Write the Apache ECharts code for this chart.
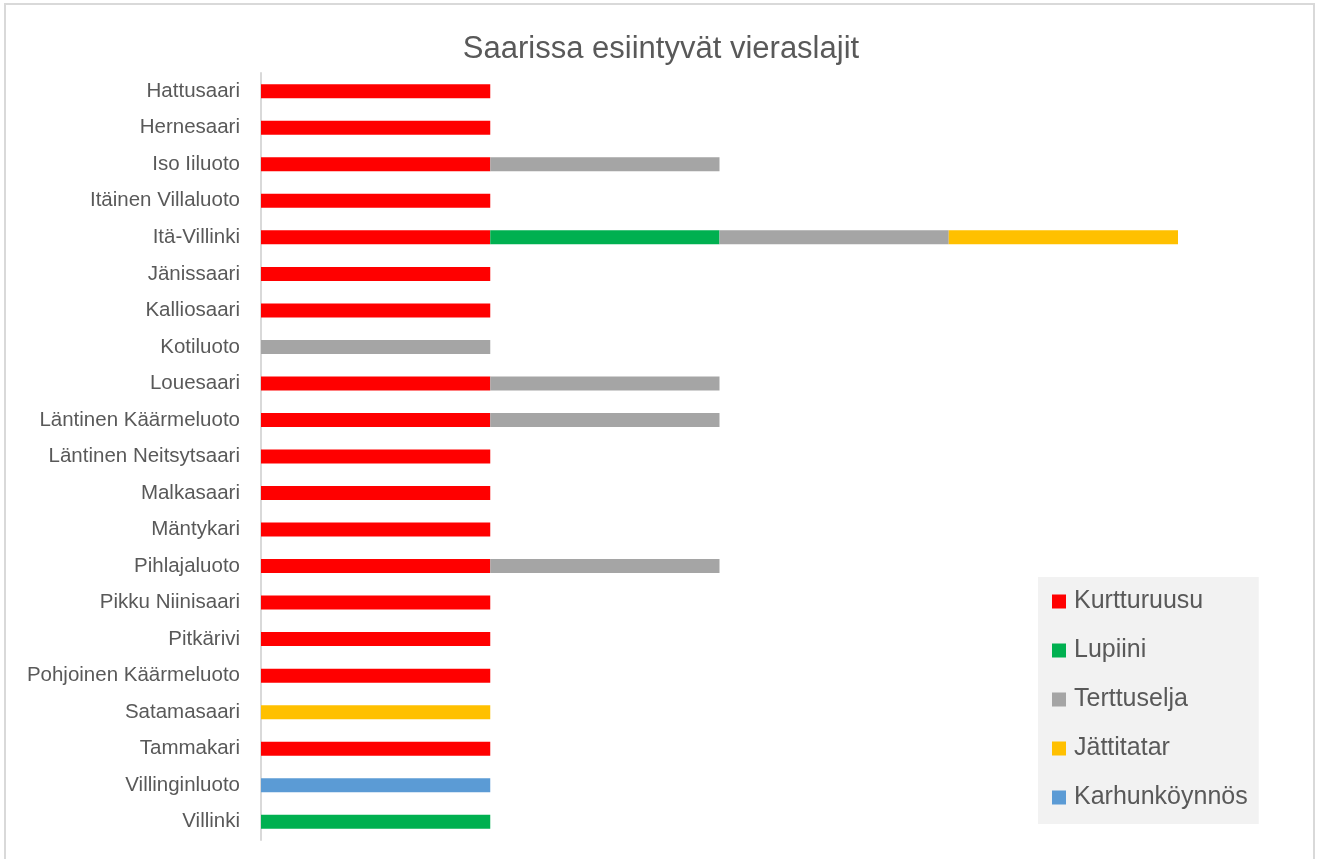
<!DOCTYPE html>
<html>
<head>
<meta charset="utf-8">
<script src="https://cdn.jsdelivr.net/npm/echarts@6/dist/echarts.min.js"></script>
<style>
  html, body { margin: 0; padding: 0; background: #fff; }
  #frame { position: absolute; left: 4px; top: 3px; width: 1311px; height: 860px; border: 2px solid #d9d9d9; box-sizing: border-box; }
  #chart { position: absolute; left: 0; top: 0; width: 1322px; height: 859px; }
</style>
</head>
<body>
<div id="frame"></div>
<div id="chart"></div>
<script>
// saaret ylhäältä alas
const saaret = ['Hattusaari', 'Hernesaari', 'Iso Iiluoto', 'Itäinen Villaluoto', 'Itä-Villinki',
  'Jänissaari', 'Kalliosaari', 'Kotiluoto', 'Louesaari', 'Läntinen Käärmeluoto',
  'Läntinen Neitsytsaari', 'Malkasaari', 'Mäntykari', 'Pihlajaluoto', 'Pikku Niinisaari',
  'Pitkärivi', 'Pohjoinen Käärmeluoto', 'Satamasaari', 'Tammakari', 'Villinginluoto', 'Villinki'];

const kurtturuusu   = [1, 1, 1, 1, 1, 1, 1, 0, 1, 1, 1, 1, 1, 1, 1, 1, 1, 0, 1, 0, 0];
const lupiini       = [0, 0, 0, 0, 1, 0, 0, 0, 0, 0, 0, 0, 0, 0, 0, 0, 0, 0, 0, 0, 1];
const terttuselja   = [0, 0, 1, 0, 1, 0, 0, 1, 1, 1, 0, 0, 0, 1, 0, 0, 0, 0, 0, 0, 0];
const jattitatar    = [0, 0, 0, 0, 1, 0, 0, 0, 0, 0, 0, 0, 0, 0, 0, 0, 0, 1, 0, 0, 0];
const karhunkoynnos = [0, 0, 0, 0, 0, 0, 0, 0, 0, 0, 0, 0, 0, 0, 0, 0, 0, 0, 0, 1, 0];

const lajit = [
  { name: 'Kurtturuusu', data: kurtturuusu, color: '#ff0000' },
  { name: 'Lupiini', data: lupiini, color: '#00b050' },
  { name: 'Terttuselja', data: terttuselja, color: '#a5a5a5' },
  { name: 'Jättitatar', data: jattitatar, color: '#ffc000' },
  { name: 'Karhunköynnös', data: karhunkoynnos, color: '#5b9bd5' }
];

const font = '"Liberation Sans", Arial, sans-serif';
const chart = echarts.init(document.getElementById('chart'));

chart.setOption({
  animation: false,
  title: {
    text: 'Saarissa esiintyvät vieraslajit',
    left: 'center',
    top: 29,
    textStyle: { fontFamily: font, fontSize: 31, fontWeight: 'normal', color: '#595959' }
  },
  legend: {
    orient: 'vertical',
    left: 1038,
    top: 577,
    padding: [12, 11, 14, 14],
    backgroundColor: '#f2f2f2',
    itemWidth: 14,
    itemHeight: 14,
    itemGap: 24,
    icon: 'rect',
    textStyle: { fontFamily: font, fontSize: 25, lineHeight: 24.5, color: '#595959', padding: [0, 0, 0, 3] },
    data: lajit.map(l => l.name)
  },
  grid: { left: 261, right: 144, top: 73, bottom: 19, containLabel: false },
  xAxis: {
    type: 'value',
    min: 0,
    max: 4,
    show: false
  },
  yAxis: {
    type: 'category',
    data: saaret,
    inverse: true,
    axisLine: { lineStyle: { color: '#d9d9d9', width: 2 } },
    axisTick: { show: false },
    axisLabel: { fontFamily: font, fontSize: 20.5, color: '#595959', margin: 21 }
  },
  series: lajit.map(l => ({
    name: l.name,
    type: 'bar',
    stack: 'lajit',
    data: l.data,
    barWidth: 14,
    itemStyle: { color: l.color }
  }))
});
</script>
</body>
</html>
